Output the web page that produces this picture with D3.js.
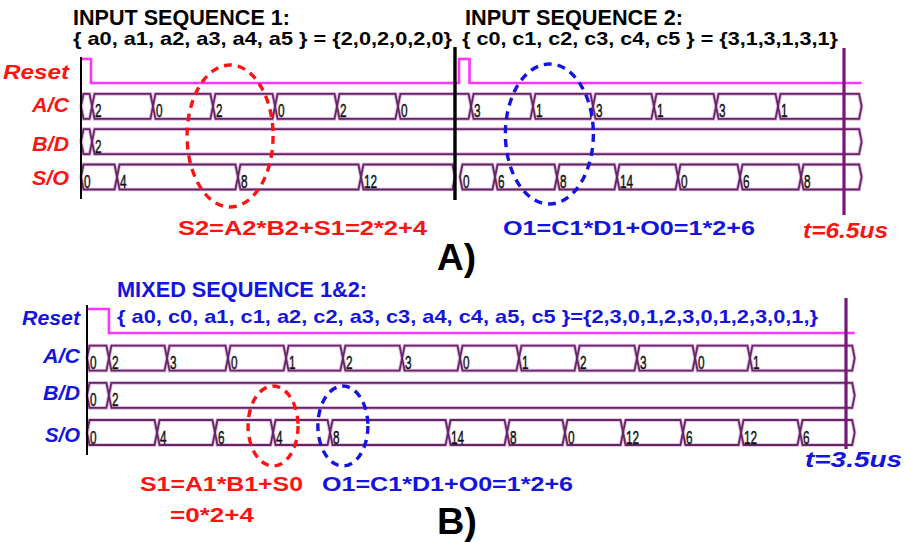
<!DOCTYPE html>
<html>
<head>
<meta charset="utf-8">
<script src="https://cdn.jsdelivr.net/npm/d3@7"></script>
<style>
  body { margin: 0; background: #fff; }
  svg { display: block; }
  text { font-family: "Liberation Sans", Arial, sans-serif; }
</style>
</head>
<body>
<svg id="chart"></svg>
<script>
// ---- data (times in us) ----
const rows = ["Reset", "A/C", "B/D", "S/O"];

// A) two input sequences, one after the other
const endA = 6.65;
const resetA_t = [0, 0.085, 3.22, 3.31];
const resetA_v = [1, 0, 1, 0];
const acA_t = [0, 0.094, 0.613, 1.124, 1.653, 2.181, 2.700, 3.323, 3.850, 4.362, 4.881, 5.410, 5.938];
const acA_v = ["", "2", "0", "2", "0", "2", "0", "3", "1", "3", "1", "3", "1"];
const bdA_t = [0, 0.094];
const bdA_v = ["", "2"];
const soA_t = [0, 0.307, 1.337, 2.385, 3.186, 3.228, 3.527, 4.055, 4.566, 5.086, 5.614, 6.134];
const soA_v = ["0", "4", "8", "12", null, "0", "6", "8", "14", "0", "6", "8"];
const splitA = 3.186;   // boundary between sequence 1 and 2
const markA = 6.5;

// B) mixed sequence
const endB = 3.54;
const resetB_t = [0, 0.101];
const resetB_v = [1, 0];
const acB_t = [0, 0.101, 0.369, 0.650, 0.918, 1.180, 1.453, 1.720, 1.992, 2.260, 2.536, 2.804, 3.057];
const acB_v = ["0", "2", "3", "0", "1", "2", "3", "0", "1", "2", "3", "0", "1"];
const bdB_t = [0, 0.101];
const bdB_v = ["0", "2"];
const soB_t = [0, 0.323, 0.590, 0.858, 1.121, 1.665, 1.937, 2.204, 2.472, 2.748, 3.016, 3.288];
const soB_v = ["0", "4", "6", "4", "8", "14", "8", "0", "12", "6", "12", "6"];
const markB = 3.5;

const RED = "#ff1212", BLUE = "#1414e0";

const W = 904, H = 542;
const svg = d3.select("#chart")
    .attr("width", W)
    .attr("height", H)
    .attr("viewBox", [0, 0, W, H]);

function segments(ts, vs, tEnd) {
    return ts.map((t0, i) => ({ t0, t1: i < ts.length - 1 ? ts[i + 1] : tEnd, v: vs[i] }))
        .filter(s => s.v !== null);
}

function busPath(x0, x1, top, bot) {
    const d = Math.min(2.5, (x1 - x0) / 2), m = (top + bot) / 2;
    return `M${x0},${m}L${x0 + d},${top}L${x1 - d},${top}L${x1},${m}L${x1 - d},${bot}L${x0 + d},${bot}Z`;
}

function label(x, y, s, o) {
    const t = svg.append("text")
        .attr("x", x).attr("y", y)
        .attr("font-size", o.size)
        .attr("font-weight", o.weight || "bold")
        .attr("font-style", o.style || "normal")
        .attr("fill", o.fill || "#000")
        .text(s);
    if (o.anchor) t.attr("text-anchor", o.anchor);
    if (o.len) t.attr("textLength", o.len).attr("lengthAdjust", "spacingAndGlyphs");
    return t;
}

function drawPanel(p) {
    const g = svg.append("g");
    const x = p.x, y = p.y, h = 12.5;

    // reset waveform
    const lvl = d3.scaleLinear([0, 1], [y("Reset") + 12, y("Reset") - 12]);
    const pts = p.reset_t.map((t, i) => [t, p.reset_v[i]]);
    pts.push([p.end, p.reset_v[p.reset_v.length - 1]]);
    g.append("path")
        .attr("d", d3.line().x(d => x(d[0])).y(d => lvl(d[1])).curve(d3.curveStepAfter)(pts))
        .attr("fill", "none")
        .attr("stroke", "#ff33ff")
        .attr("stroke-width", 2.6);

    // bus rows
    p.buses.forEach(b => {
        const yc = y(b.row), top = yc - h, bot = yc + h;
        const segs = segments(b.t, b.v, p.end);
        const row = g.append("g");
        row.selectAll("path.under")
            .data(segs)
            .join("path")
            .attr("class", "under")
            .attr("d", s => busPath(x(s.t0), x(s.t1), top, bot))
            .attr("fill", "none")
            .attr("stroke", "#e7b2e7")
            .attr("stroke-width", 3.6);
        row.selectAll("path.over")
            .data(segs)
            .join("path")
            .attr("class", "over")
            .attr("d", s => busPath(x(s.t0), x(s.t1), top, bot))
            .attr("fill", "none")
            .attr("stroke", "#5e2a60")
            .attr("stroke-width", 1.8);
        row.selectAll("text")
            .data(segs.filter(s => s.v !== ""))
            .join("text")
            .attr("transform", s => `translate(${x(s.t0) + 3},${bot - 1.5}) scale(0.62,1)`)
            .attr("font-size", 19)
            .attr("fill", "#111")
            .attr("stroke", "#111")
            .attr("stroke-width", 0.5)
            .text(s => s.v);
    });

    // row labels
    rows.forEach((r, i) => {
        label(p.labelX, y(r) + p.labelDy[i], r,
            { size: 20, style: "italic", fill: p.color, anchor: "end", len: p.labelLen[i] });
    });

    // axis line
    g.append("line")
        .attr("x1", x(0)).attr("x2", x(0))
        .attr("y1", p.axisY[0]).attr("y2", p.axisY[1])
        .attr("stroke", "#000").attr("stroke-width", 2);

    // marker line
    g.append("line")
        .attr("x1", x(p.mark)).attr("x2", x(p.mark))
        .attr("y1", p.markY[0]).attr("y2", p.markY[1])
        .attr("stroke", "#7a157a").attr("stroke-width", 3.2);

    // dashed ellipses
    p.rings.forEach(e => {
        g.append("ellipse")
            .attr("cx", x(e.t)).attr("cy", e.cy)
            .attr("rx", e.rx).attr("ry", e.ry)
            .attr("fill", "none")
            .attr("stroke", e.color)
            .attr("stroke-width", 3.4)
            .attr("stroke-dasharray", "8,6");
    });
    return g;
}

// ---- panel A ----
const xA = d3.scaleLinear([0, 6.5], [81, 844]);
const yA = d3.scalePoint(rows, [71, 177]);
const gA = drawPanel({
    x: xA, y: yA, end: endA, mark: markA, color: RED,
    reset_t: resetA_t, reset_v: resetA_v,
    buses: [
        { row: "A/C", t: acA_t, v: acA_v },
        { row: "B/D", t: bdA_t, v: bdA_v },
        { row: "S/O", t: soA_t, v: soA_v }
    ],
    labelX: 69, labelDy: [8, 6, 9, 8], labelLen: [66, 37, 37, 37],
    axisY: [57, 199], markY: [48, 215],
    rings: [
        { t: 1.27, cy: 136, rx: 43, ry: 71, color: RED },
        { t: 3.99, cy: 134, rx: 44, ry: 70, color: BLUE }
    ]
});
gA.append("line")
    .attr("x1", xA(splitA)).attr("x2", xA(splitA))
    .attr("y1", 47).attr("y2", 200)
    .attr("stroke", "#000").attr("stroke-width", 3.4);

label(73, 25, "INPUT SEQUENCE 1:", { size: 22, len: 217 });
label(73, 45, "{ a0, a1, a2, a3, a4, a5 } = {2,0,2,0,2,0}", { size: 19, len: 379 });
label(465, 25, "INPUT SEQUENCE 2:", { size: 22, len: 218 });
label(462, 45, "{ c0, c1, c2, c3, c4, c5 } = {3,1,3,1,3,1}", { size: 19, len: 376 });
label(178, 235, "S2=A2*B2+S1=2*2+4", { size: 21, fill: RED, len: 249 });
label(503, 235, "O1=C1*D1+O0=1*2+6", { size: 21, fill: BLUE, len: 252 });
label(803, 238, "t=6.5us", { size: 22, style: "italic", fill: RED, len: 85 });
label(437, 270, "A)", { size: 37, len: 39 });

// ---- panel B ----
const xB = d3.scaleLinear([0, 3.5], [87, 846]);
const yB = d3.scalePoint(rows, [321, 432.5]);
drawPanel({
    x: xB, y: yB, end: endB, mark: markB, color: BLUE,
    reset_t: resetB_t, reset_v: resetB_v,
    buses: [
        { row: "A/C", t: acB_t, v: acB_v },
        { row: "B/D", t: bdB_t, v: bdB_v },
        { row: "S/O", t: soB_t, v: soB_v }
    ],
    labelX: 80, labelDy: [4, 5, 5, 9], labelLen: [58, 37, 37, 35],
    axisY: [305, 455], markY: [298, 449],
    rings: [
        { t: 0.858, cy: 426, rx: 25, ry: 40, color: RED },
        { t: 1.18, cy: 426, rx: 25, ry: 40, color: BLUE }
    ]
});

label(117, 297, "MIXED SEQUENCE 1&2:", { size: 22, fill: BLUE, len: 250 });
label(117, 323, "{ a0, c0, a1, c1, a2, c2, a3, c3, a4, c4, a5, c5 }={2,3,0,1,2,3,0,1,2,3,0,1,}",
    { size: 19, fill: BLUE, len: 701 });
label(140, 491, "S1=A1*B1+S0", { size: 21, fill: RED, len: 163 });
label(170, 522, "=0*2+4", { size: 21, fill: RED, len: 84 });
label(322, 491, "O1=C1*D1+O0=1*2+6", { size: 21, fill: BLUE, len: 251 });
label(805, 467, "t=3.5us", { size: 22, style: "italic", fill: BLUE, len: 97 });
label(437, 534, "B)", { size: 36, len: 40 });
</script>
</body>
</html>
